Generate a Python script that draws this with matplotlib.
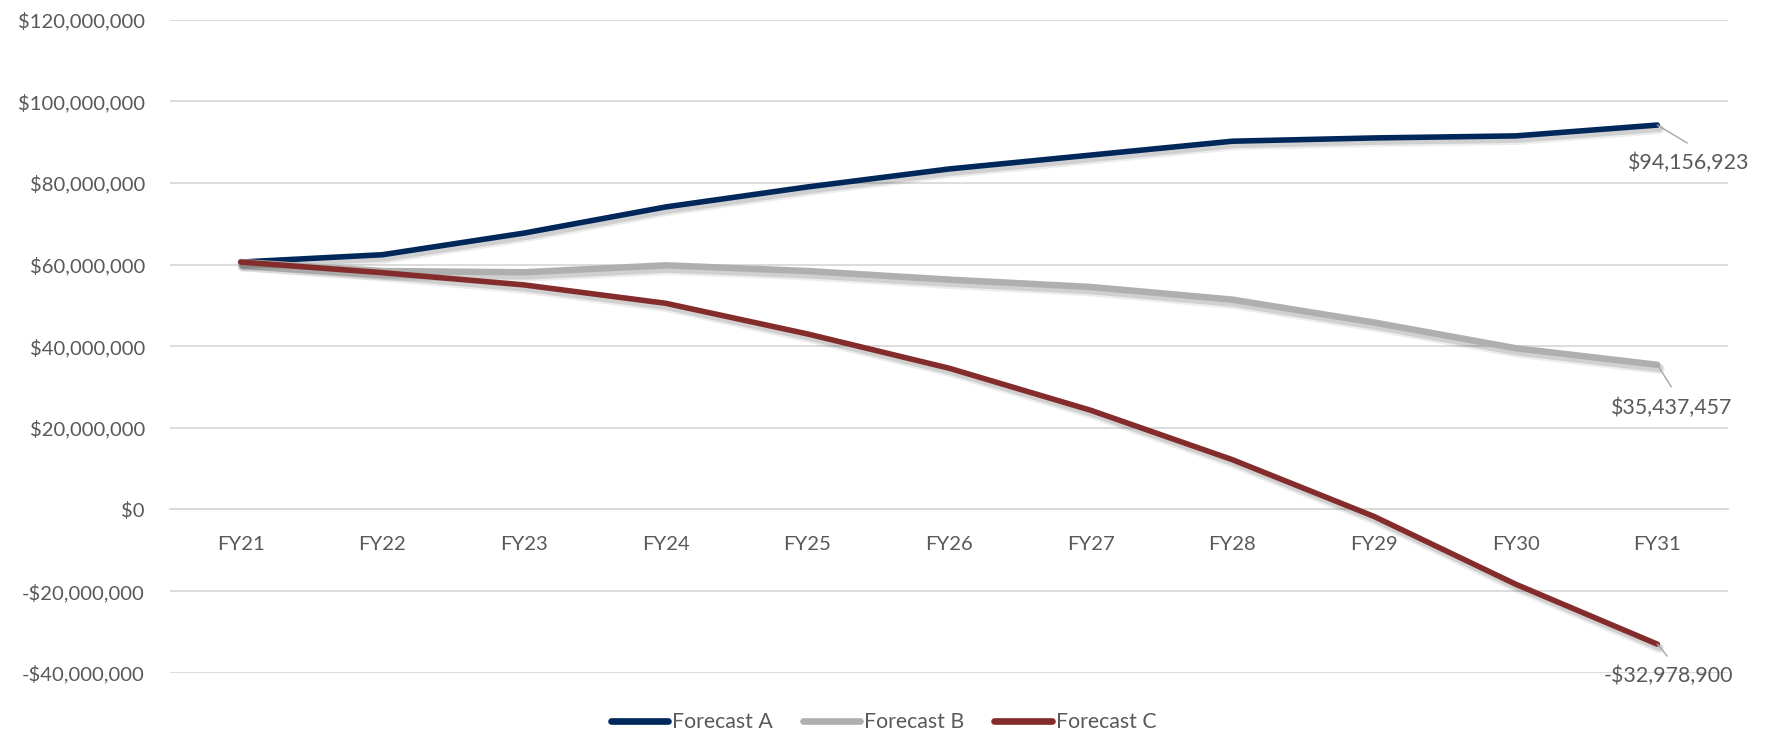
import matplotlib
matplotlib.use("Agg")
import matplotlib.pyplot as plt
import matplotlib.patheffects as pe
from matplotlib.ticker import FuncFormatter

categories = ["FY21", "FY22", "FY23", "FY24", "FY25", "FY26", "FY27", "FY28", "FY29", "FY30", "FY31"]
forecast_a = [60.6e6, 62.4e6, 67.7e6, 74.1e6, 79.0e6, 83.4e6, 86.8e6, 90.2e6, 91.0e6, 91.5e6, 94156923]
forecast_b = [60.6e6, 58.4e6, 58.1e6, 59.8e6, 58.4e6, 56.3e6, 54.5e6, 51.4e6, 45.8e6, 39.5e6, 35437457]
forecast_c = [60.6e6, 58.0e6, 55.0e6, 50.5e6, 43.0e6, 34.6e6, 24.3e6, 12.2e6, -1.7e6, -18.3e6, -32978900]
series_names = ["Forecast A", "Forecast B", "Forecast C"]
end_labels = ["$94,156,923", "$35,437,457", "-$32,978,900"]

colors = ["#00275A", "#AEB0AE", "#842C2B"]
widths = [4.0, 4.7, 4.0]
text_color = "#595959"
grid_color = "#D9D9D9"
font = ["Lato", "DejaVu Sans"]
fs = 14.6
fs_lab = 15.4
fs_leg = 15.3

plt.rcParams["font.family"] = font

fig = plt.figure(figsize=(17.67, 7.37), dpi=100)
ax = fig.add_axes([0.0962, 0.0871, 0.978 - 0.0962, 0.9735 - 0.0871])

x = list(range(len(categories)))
for vals, name, c, w in zip([forecast_a, forecast_b, forecast_c], series_names, colors, widths):
    shadow = [pe.SimpleLineShadow(offset=(1.5, -3.0), shadow_color="#000000", alpha=0.07, linewidth=w + 3.0),
              pe.SimpleLineShadow(offset=(1.5, -2.5), shadow_color="#000000", alpha=0.12, linewidth=w + 1.0),
              pe.Normal()]
    ax.plot(x, vals, color=c, lw=w, label=name, solid_capstyle="round",
            solid_joinstyle="round", path_effects=shadow, zorder=3)

ax.set_xlim(-0.5, len(categories) - 0.5)
ax.set_ylim(-40e6, 120e6)
ax.set_yticks([-40e6, -20e6, 0, 20e6, 40e6, 60e6, 80e6, 100e6, 120e6])

def money(v, pos=None):
    v = int(round(v))
    return ("-$" if v < 0 else "$") + f"{abs(v):,}"

ax.yaxis.set_major_formatter(FuncFormatter(money))
ax.grid(axis="y", color=grid_color, lw=1.3, zorder=0)
ax.set_axisbelow(True)
for s in ["top", "right", "left"]:
    ax.spines[s].set_visible(False)
ax.spines["bottom"].set_position(("data", 0))
ax.spines["bottom"].set_color(grid_color)
ax.spines["bottom"].set_linewidth(1.3)
ax.set_xticks(x)
ax.set_xticklabels(categories)
ax.tick_params(axis="x", length=0, pad=19, labelsize=fs, labelcolor=text_color)
ax.tick_params(axis="y", length=0, pad=18, labelsize=fs, labelcolor=text_color)

# end-of-series data labels with leader lines
offsets_leader = [(30, -18), (14, -22), (10, -12)]
offsets_text = [(31, -38), (14, -43), (11, -32)]
for vals, lab, ol, ot in zip([forecast_a, forecast_b, forecast_c], end_labels, offsets_leader, offsets_text):
    pt = (x[-1], vals[-1])
    ax.annotate("", xy=pt, xytext=ol, textcoords="offset pixels",
                arrowprops=dict(arrowstyle="-", color="#A6A6A6", lw=1.0,
                                shrinkA=0, shrinkB=0), zorder=4)
    ax.annotate(lab, xy=pt, xytext=ot, textcoords="offset pixels",
                ha="center", va="center", fontsize=fs_lab, color=text_color, zorder=5)

leg = fig.legend(loc="center", bbox_to_anchor=(0.5, 1 - 722 / 737), ncol=3, frameon=False,
                 fontsize=fs_leg, handlelength=2.7, handletextpad=0.2, columnspacing=1.4,
                 labelcolor=text_color)
for h in leg.get_lines():
    h.set_linewidth(4.8)
    h.set_solid_capstyle("round")
    h.set_path_effects([])

fig.savefig("out.png", dpi=100)
